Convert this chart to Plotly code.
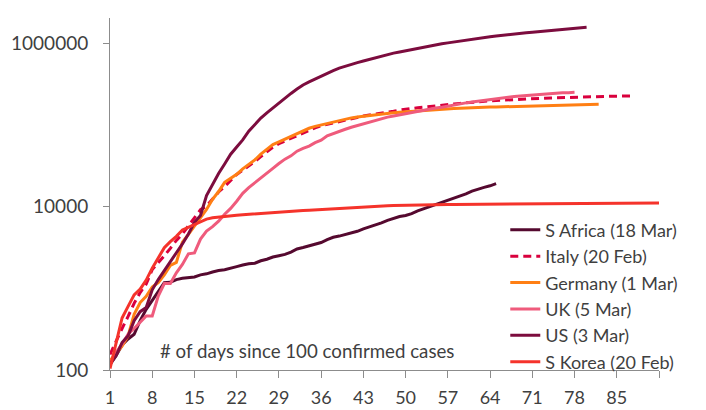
import plotly.graph_objects as go

# Cumulative confirmed cases, indexed by days since 100 confirmed cases
s_africa = [116, 150, 202, 240, 274, 402, 554, 709, 927, 1170,
            1187, 1280, 1326, 1353, 1380, 1462, 1505, 1585, 1655, 1686,
            1749, 1845, 1934, 2003, 2028, 2173, 2272, 2415, 2506, 2605,
            2783, 3034, 3158, 3300, 3465, 3635, 3953, 4220, 4361, 4546,
            4793, 4996, 5350, 5647, 5951, 6336, 6783, 7220, 7572, 7808,
            8232, 8895, 9420, 10015, 10652, 11350, 12074, 12739, 13524, 14355,
            15515, 16433, 17200, 18003, 19137]

italy = [155, 229, 322, 453, 655, 888, 1128, 1694, 2036, 2502,
         3089, 3858, 4636, 5883, 7375, 9172, 10149, 12462, 15113, 17660,
         21157, 24747, 27980, 31506, 35713, 41035, 47021, 53578, 59138, 63927,
         69176, 74386, 80589, 86498, 92472, 97689, 101739, 105792, 110574, 115242,
         119827, 124632, 128948, 132547, 135586, 139422, 143626, 147577, 152271, 156363,
         159516, 162488, 165155, 168941, 172434, 175925, 178972, 181228, 183957, 187327,
         189973, 192994, 195351, 197675, 199414, 201505, 203591, 205463, 207428, 209328,
         210717, 211938, 213013, 214457, 215858, 217185, 218268, 219070, 219814, 221216,
         222104, 223096, 223885, 224760, 225435, 225886, 226699, 227364]

germany = [130, 159, 196, 262, 482, 670, 799, 1040, 1176, 1457,
           1908, 2078, 3675, 4585, 5795, 7272, 9257, 12327, 15320, 19848,
           22213, 24873, 29056, 32986, 37323, 43938, 50871, 57695, 62095, 66885,
           71808, 77872, 84794, 91159, 96092, 100123, 103374, 107663, 113296, 118181,
           122171, 124908, 127854, 130072, 131359, 134753, 137698, 141397, 143342, 145184,
           147065, 148291, 150648, 153129, 154999, 156513, 157770, 158758, 159912, 161539,
           163009, 164077, 164967, 165664, 166152, 167007, 168162, 169430, 170588, 171324,
           171879, 172576, 173171, 174098, 174478, 175233, 175752, 176369, 176551, 177778,
           178473, 179021]

uk = [116, 164, 207, 274, 322, 384, 459, 459, 802, 1144,
      1145, 1551, 1960, 2642, 2716, 4014, 5018, 5683, 6650, 8077,
      9529, 11658, 14543, 17089, 19522, 22141, 25150, 29474, 33718, 38168,
      41903, 47806, 51608, 55242, 60733, 65077, 73758, 78991, 84279, 88621,
      93873, 98476, 103093, 108692, 114217, 120067, 124743, 129044, 133495, 138078,
      143464, 148377, 152840, 157149, 161145, 165221, 171253, 177454, 182260, 186599,
      190584, 194990, 201101, 206715, 211364, 215260, 219183, 223060, 226463, 229705,
      233151, 236711, 240161, 243303, 246406, 248818, 248293, 250908]

us = [118, 149, 217, 262, 402, 518, 583, 959, 1281, 1663,
      2179, 2726, 3499, 4632, 6421, 7786, 13680, 19101, 25493, 33276,
      43847, 53740, 65778, 83836, 101657, 121465, 140909, 161831, 188172, 213242,
      243622, 275367, 308650, 336802, 366317, 397121, 428654, 462780, 496535, 526396,
      555313, 580619, 607670, 636350, 667801, 699706, 732197, 759086, 784326, 811865,
      840351, 869170, 905358, 938154, 965785, 988197, 1012582, 1039909, 1069424, 1103461,
      1132539, 1158040, 1180375, 1204351, 1229331, 1257023, 1283929, 1309550, 1329260, 1347881,
      1369376, 1390406, 1417774, 1442824, 1467820, 1486757, 1508308, 1528568, 1551853, 1577147]

s_korea = [104, 204, 433, 602, 833, 977, 1261, 1766, 2337, 3150,
           3736, 4335, 5186, 5621, 6088, 6593, 7041, 7314, 7478, 7513,
           7755, 7869, 7979, 8086, 8162, 8236, 8320, 8413, 8565, 8652,
           8799, 8897, 8961, 9037, 9137, 9241, 9332, 9478, 9583, 9661,
           9786, 9887, 9976, 10062, 10156, 10237, 10284, 10331, 10384, 10423,
           10450, 10480, 10512, 10537, 10564, 10591, 10613, 10635, 10653, 10661,
           10674, 10683, 10694, 10702, 10708, 10718, 10728, 10738, 10752, 10761,
           10765, 10774, 10780, 10793, 10801, 10804, 10806, 10810, 10822, 10840,
           10874, 10909, 10936, 10962, 10991, 11018, 11037, 11050, 11065, 11078,
           11110, 11122]

series_names = ["S Africa (18 Mar)", "Italy (20 Feb)", "Germany (1 Mar)",
                "UK (5 Mar)", "US (3 Mar)", "S Korea (20 Feb)"]
series_values = [s_africa, italy, germany, uk, us, s_korea]
series_colors = ["#55092F", "#D9003D", "#FF7F14", "#EF5B7C", "#7C0C3E", "#F5332B"]
series_dash = ["solid", "8px,5px", "solid", "solid", "solid", "solid"]

x_tick_vals = [1, 8, 15, 22, 29, 36, 43, 50, 57, 64, 71, 78, 85, 92]
x_tick_text = ["1", "8", "15", "22", "29", "36", "43", "50", "57", "64", "71", "78", "85", ""]
y_tick_vals = [100, 10000, 1000000]
y_tick_text = ["100", "10000", "1000000"]

FONT = "Lato"
TEXT = "#3F3F3F"
AXIS = "#8C8C8C"

fig = go.Figure()
for name, vals, col, dash in zip(series_names, series_values, series_colors, series_dash):
    fig.add_trace(go.Scatter(
        x=list(range(1, len(vals) + 1)), y=vals, name=name, mode="lines",
        line=dict(color=col, width=3, dash=dash),
    ))

fig.update_layout(
    width=706, height=410,
    margin=dict(l=110, r=47, t=18, b=40, autoexpand=False),
    paper_bgcolor="white", plot_bgcolor="white",
    font=dict(family=FONT, size=18, color=TEXT),
    showlegend=True,
    legend=dict(x=0.72, y=-0.03, xanchor="left", yanchor="bottom",
                bgcolor="rgba(0,0,0,0)", font=dict(family=FONT, size=18, color=TEXT),
                tracegroupgap=0),
    xaxis=dict(range=[1, 92], tickmode="array", tickvals=x_tick_vals, ticktext=x_tick_text,
               showgrid=False, zeroline=False, showline=True, linecolor=AXIS, linewidth=1,
               ticks="outside", ticklen=7, tickcolor=AXIS, tickwidth=1, automargin=False,
               tickfont=dict(family=FONT, size=18, color=TEXT), ticklabelstandoff=4),
    yaxis=dict(type="log", range=[2, 6.31], tickmode="array", tickvals=y_tick_vals,
               ticktext=y_tick_text, showgrid=False, zeroline=False, showline=True,
               linecolor=AXIS, linewidth=1, ticks="outside", ticklen=6, tickcolor=AXIS,
               tickwidth=1, tickfont=dict(family=FONT, size=19, color=TEXT),
               ticklabelstandoff=11, automargin=False),
    annotations=[dict(text="# of days since 100 confirmed cases", xref="paper", yref="paper",
                      x=0.087, y=0.055, xanchor="left", yanchor="middle", showarrow=False,
                      font=dict(family=FONT, size=18.7, color=TEXT))],
)

fig.write_html("out.html", config={"displayModeBar": False},
               post_script="document.body.style.margin='0';")
